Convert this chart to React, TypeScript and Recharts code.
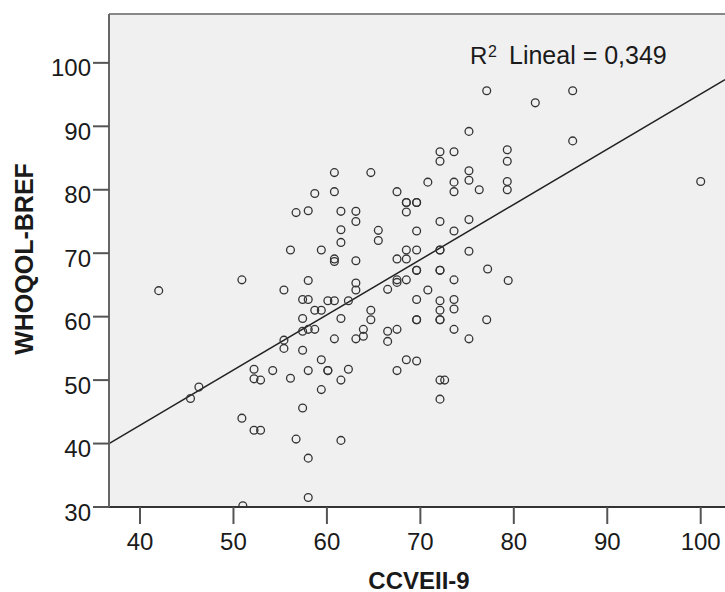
import React from 'react';
import { ScatterChart, Scatter, XAxis, YAxis, CartesianGrid, ReferenceLine } from 'recharts';

// CCVEII-9 (x) vs WHOQOL-BREF (y), one entry per subject
const ccveii = [
  42.0, 50.9, 46.3, 45.4, 50.9, 52.2, 52.9, 51.0,
  57.4, 56.7, 61.5, 58.0, 58.0,
  56.7, 58.0, 61.5, 63.1, 63.1, 61.5, 65.5, 65.5, 61.5, 56.1, 59.4, 60.8, 60.8, 63.1,
  68.5, 72.1, 75.2, 69.6, 73.6, 68.5, 69.6, 72.1, 72.1, 75.2, 67.5, 68.5,
  69.6, 69.6, 72.1, 72.1, 77.2, 58.0, 63.1, 63.1, 67.5, 67.5, 68.5, 73.6,
  55.4, 66.5, 70.8, 57.4, 58.0, 60.1, 60.8, 62.3, 69.6, 72.1, 73.6,
  58.7, 59.4, 64.7, 72.1, 73.6, 57.4, 61.5, 64.7, 69.6, 69.6, 72.1, 72.1, 77.1,
  57.4, 58.0, 58.7, 63.9, 66.5, 67.5, 73.6, 55.4, 55.4, 57.4, 60.8, 63.1, 63.9, 66.5, 75.2,
  59.4, 68.5, 69.6, 52.2, 52.2, 52.9, 54.2, 56.1, 58.0, 60.1, 60.1, 62.3, 61.5, 67.5,
  72.1, 72.6, 59.4, 72.1, 79.4,
  77.1, 82.3, 86.3, 86.3, 100.0, 79.3, 79.3, 79.3, 79.3, 75.2, 72.1, 72.1, 73.6,
  75.2, 75.2, 76.3, 70.8, 73.6, 73.6, 60.8, 64.7, 58.7, 60.8, 67.5, 68.5, 68.5, 69.6, 69.6,
];

const whoqol = [
  64.1, 65.8, 48.9, 47.1, 44.0, 42.1, 42.1, 30.2,
  45.6, 40.7, 40.5, 37.7, 31.5,
  76.4, 76.7, 76.6, 76.6, 75.0, 73.7, 73.6, 72.0, 71.7, 70.5, 70.5, 69.1, 68.7, 68.8,
  76.5, 75.0, 75.3, 73.5, 73.5, 70.5, 70.5, 70.5, 70.5, 70.3, 69.1, 69.1,
  67.3, 67.3, 67.3, 67.3, 67.5, 65.7, 65.3, 64.2, 65.8, 65.4, 65.8, 65.8,
  64.2, 64.3, 64.2, 62.7, 62.7, 62.5, 62.5, 62.5, 62.7, 62.5, 62.7,
  61.0, 61.0, 61.0, 61.0, 61.2, 59.7, 59.7, 59.5, 59.5, 59.5, 59.5, 59.5, 59.5,
  57.7, 58.0, 58.0, 58.0, 57.7, 58.0, 58.0, 56.3, 55.0, 54.7, 56.5, 56.5, 56.9, 56.1, 56.5,
  53.2, 53.2, 53.0, 51.7, 50.2, 50.0, 51.5, 50.3, 51.5, 51.5, 51.5, 51.7, 50.0, 51.5,
  50.0, 50.0, 48.5, 47.0, 65.7,
  95.6, 93.7, 95.6, 87.7, 81.3, 86.3, 84.5, 81.3, 80.0, 89.2, 86.0, 84.5, 86.0,
  83.0, 81.5, 80.0, 81.2, 81.2, 79.7, 82.7, 82.7, 79.4, 79.7, 79.7, 78.0, 78.0, 78.0, 78.0,
];

const xTicks = [40, 50, 60, 70, 80, 90, 100];
const yTicks = [30, 40, 50, 60, 70, 80, 90, 100];

// visible ends of the linear fit line
const fitLine = [
  { x: 36.68, y: 40.0 },
  { x: 102.6, y: 97.35 },
];

const xDomain = [36.68, 102.6];
const yDomain = [30, 107.7];

const points = ccveii.map((x, i) => ({ x, y: whoqol[i] }));

const FONT = '"Liberation Sans", Arial, sans-serif';

const Ring = (props: any) => {
  const { cx, cy } = props;
  return <circle cx={cx} cy={cy} r={3.9} fill="none" stroke="#333" strokeWidth={1.3} />;
};

const YTick = ({ x, y, payload }: any) => (
  <text x={x} y={y} dy={13.5} textAnchor="end" fontSize={24} fontFamily={FONT} fill="#1a1a1a">
    {payload.value}
  </text>
);

const XTick = ({ x, y, payload }: any) => (
  <text x={x} y={y} dy={26} textAnchor="middle" fontSize={24} fontFamily={FONT} fill="#1a1a1a">
    {payload.value}
  </text>
);

export default function App() {
  return (
    <div style={{ position: 'absolute', left: 0, top: 0, width: 725, height: 592, background: '#fff' }}>
      <ScatterChart width={725} height={592} margin={{ top: 14, right: 0, bottom: 0, left: 0 }}>
        <CartesianGrid fill="#f0f0f0" horizontal={false} vertical={false} />
        <XAxis
          type="number"
          dataKey="x"
          domain={xDomain}
          ticks={xTicks}
          allowDataOverflow
          height={85}
          tickSize={17}
          tickMargin={0}
          axisLine={{ stroke: '#333', strokeWidth: 2 }}
          tickLine={{ stroke: '#555', strokeWidth: 2 }}
          tick={<XTick />}
        />
        <YAxis
          type="number"
          dataKey="y"
          domain={yDomain}
          ticks={yTicks}
          allowDataOverflow
          width={109}
          tickSize={16}
          tickMargin={2}
          axisLine={{ stroke: '#666', strokeWidth: 2 }}
          tickLine={{ stroke: '#555', strokeWidth: 2 }}
          tick={<YTick />}
        />
        <ReferenceLine y={yDomain[1]} stroke="#888" strokeWidth={2} />
        <ReferenceLine segment={fitLine} stroke="#222" strokeWidth={1.5} />
        <Scatter data={points} shape={<Ring />} isAnimationActive={false} />
      </ScatterChart>
      <svg
        width={725}
        height={592}
        style={{ position: 'absolute', left: 0, top: 0, pointerEvents: 'none' }}
      >
        <text x={470} y={64} fontSize={24} fontFamily={FONT} fill="#1a1a1a">R</text>
        <text x={488} y={57} fontSize={16} fontFamily={FONT} fill="#1a1a1a">2</text>
        <text x={509} y={64} fontSize={25} fontFamily={FONT} fill="#1a1a1a">Lineal = 0,349</text>
        <text x={419} y={589} textAnchor="middle" fontSize={24} fontWeight="bold" fontFamily={FONT} fill="#1a1a1a">
          CCVEII-9
        </text>
        <text
          x={33}
          y={259}
          textAnchor="middle"
          fontSize={25}
          fontWeight="bold"
          fontFamily={FONT}
          fill="#1a1a1a"
          transform="rotate(-90 33 259)"
        >
          WHOQOL-BREF
        </text>
      </svg>
    </div>
  );
}
